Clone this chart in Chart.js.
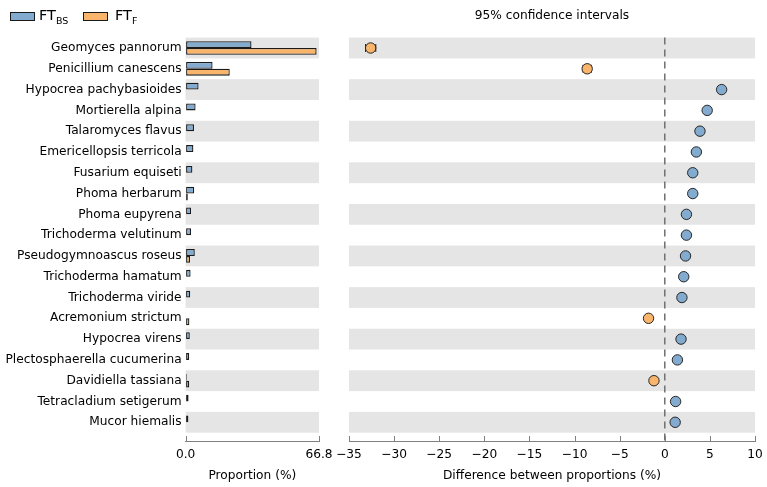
<!DOCTYPE html>
<html lang="en">
<head>
<meta charset="UTF-8">
<title>FT_BS vs FT_F proportions</title>
<style>
    body {
        margin: 0;
        background: #fff;
        font-family: "DejaVu Sans", sans-serif;
    }
    #wrap { position: relative; width: 767px; height: 487px; overflow: hidden; }
    .box { position: absolute; top: 0; height: 487px; }
    #leftBox { left: 0; width: 360px; }
    #rightBox { left: 320px; width: 467px; }
    .swatch {
        position: absolute; top: 12px; width: 25px; height: 9px;
        box-sizing: border-box; border: 1.5px solid #1a1a1a;
    }
    .legText { position: absolute; top: 7px; font-size: 14.5px; line-height: 16px; color: #000; }
    .legText sub { font-size: 9.5px; vertical-align: -4px; line-height: 0; }
    #ciTitle { position: absolute; left: 349px; width: 406px; top: 8px; text-align: center; font-size: 12.2px; color: #000; }
</style>
<script src="https://cdn.jsdelivr.net/npm/chart.js"></script>
</head>
<body>
<div id="wrap">
    <div class="box" id="leftBox"><canvas id="propChart"></canvas></div>
    <div class="box" id="rightBox"><canvas id="diffChart"></canvas></div>
    <div class="swatch" style="left:10px; background:#82abcf;"></div>
    <div class="legText" style="left:39px;">FT<sub>BS</sub></div>
    <div class="swatch" style="left:83px; background:#f9b56b;"></div>
    <div class="legText" style="left:115px;">FT<sub>F</sub></div>
    <div id="ciTitle">95% confidence intervals</div>
</div>
<script>
const taxa = ['Geomyces pannorum', 'Penicillium canescens', 'Hypocrea pachybasioides', 'Mortierella alpina',
    'Talaromyces flavus', 'Emericellopsis terricola', 'Fusarium equiseti', 'Phoma herbarum', 'Phoma eupyrena',
    'Trichoderma velutinum', 'Pseudogymnoascus roseus', 'Trichoderma hamatum', 'Trichoderma viride',
    'Acremonium strictum', 'Hypocrea virens', 'Plectosphaerella cucumerina', 'Davidiella tassiana',
    'Tetracladium setigerum', 'Mucor hiemalis'];

// proportions (%)
const propBS = [33.0, 13.5, 6.5, 5.0, 4.2, 3.9, 3.4, 4.3, 2.7, 2.7, 4.6, 2.5, 2.3, 0.1, 2.1, 1.8, 0.6, 1.5, 1.4];
const propF  = [65.6, 22.1, 0.1, 0.2, 0.2, 0.3, 0.2, 1.1, 0.2, 0.2, 2.2, 0.3, 0.3, 1.9, 0.2, 0.3, 1.8, 0.3, 0.25];

// difference between proportions and 95% CI
const diffs  = [-32.6, -8.6, 6.3, 4.7, 3.9, 3.5, 3.1, 3.1, 2.4, 2.4, 2.3, 2.1, 1.9, -1.8, 1.8, 1.4, -1.2, 1.2, 1.15];
const ciLow  = [-33.17, -9.06, 6.0, 4.4, 3.6, 3.2, 2.8, 2.8, 2.1, 2.1, 2.0, 1.8, 1.6, -2.1, 1.5, 1.1, -1.5, 0.9, 0.85];
const ciHigh = [-32.03, -8.14, 6.6, 5.0, 4.2, 3.8, 3.4, 3.4, 2.7, 2.7, 2.6, 2.4, 2.2, -1.5, 2.1, 1.7, -0.9, 1.5, 1.45];

const propTicks = [0, 66.8];
const diffTicks = [-35, -30, -25, -20, -15, -10, -5, 0, 5, 10];

const blue = '#82abcf';
const orange = '#f9b56b';
const font = { family: '"DejaVu Sans", sans-serif', size: 12.2 };

// grey band behind every other row
const rowBands = {
    id: 'rowBands',
    beforeDatasetsDraw(chart) {
        const { ctx, chartArea, scales: { y } } = chart;
        ctx.save();
        ctx.fillStyle = '#e5e5e5';
        taxa.forEach((t, i) => {
            if (i % 2) return;
            const top = y.getPixelForValue(i - 0.5);
            const bot = y.getPixelForValue(i + 0.5);
            ctx.fillRect(chartArea.left, top, chartArea.right - chartArea.left, bot - top);
        });
        ctx.restore();
    }
};

// short tick marks pointing into the plot
const innerTicks = {
    id: 'innerTicks',
    afterDraw(chart) {
        const { ctx, scales: { x } } = chart;
        ctx.save();
        ctx.strokeStyle = '#808080';
        ctx.lineWidth = 1;
        x.ticks.forEach(t => {
            const px = Math.round(x.getPixelForValue(t.value)) + 0.5;
            ctx.beginPath();
            ctx.moveTo(px, x.top);
            ctx.lineTo(px, x.top - 5);
            ctx.stroke();
        });
        ctx.restore();
    }
};

// dashed zero line and CI whiskers
const zeroAndErrors = {
    id: 'zeroAndErrors',
    beforeDatasetsDraw(chart) {
        const { ctx, chartArea, scales: { x, y } } = chart;
        ctx.save();
        const x0 = x.getPixelForValue(0);
        ctx.strokeStyle = '#707070';
        ctx.lineWidth = 1.5;
        ctx.setLineDash([7, 5]);
        ctx.beginPath();
        ctx.moveTo(x0, chartArea.top);
        ctx.lineTo(x0, chartArea.bottom);
        ctx.stroke();
        ctx.setLineDash([]);
        ctx.strokeStyle = '#222';
        ctx.lineWidth = 1;
        diffs.forEach((d, i) => {
            const yp = y.getPixelForValue(i);
            const a = x.getPixelForValue(ciLow[i]);
            const b = x.getPixelForValue(ciHigh[i]);
            ctx.beginPath();
            ctx.moveTo(a, yp); ctx.lineTo(b, yp);
            ctx.moveTo(a, yp - 4); ctx.lineTo(a, yp + 4);
            ctx.moveTo(b, yp - 4); ctx.lineTo(b, yp + 4);
            ctx.stroke();
        });
        ctx.restore();
    }
};

const rowAxis = {
    type: 'linear', reverse: true, min: -0.5, max: 18.9, offset: false
};

const minus = v => (v < 0 ? '\u2212' + Math.abs(v) : String(v));

new Chart(document.getElementById('propChart'), {
    type: 'bar',
    data: {
        datasets: [
            {
                label: 'FT_BS',
                data: propBS.map((v, i) => ({ x: v, y: i })),
                backgroundColor: blue, borderColor: '#1a1a1a', borderWidth: 1.3, borderSkipped: false
            },
            {
                label: 'FT_F',
                data: propF.map((v, i) => ({ x: v, y: i })),
                backgroundColor: orange, borderColor: '#1a1a1a', borderWidth: 1.3, borderSkipped: false
            }
        ]
    },
    options: {
        indexAxis: 'y',
        responsive: true,
        maintainAspectRatio: false,
        animation: false,
        layout: { autoPadding: false, padding: { top: 37.6, right: 41, left: 0, bottom: 0 } },
        datasets: { bar: { categoryPercentage: 0.66, barPercentage: 1.0 } },
        plugins: { legend: { display: false }, tooltip: { enabled: false } },
        scales: {
            y: Object.assign({}, rowAxis, {
                afterBuildTicks: s => { s.ticks = taxa.map((t, i) => ({ value: i })); },
                afterFit: s => { s.width = 185.6; },
                ticks: { callback: v => taxa[v], color: '#000', font: font, padding: 4, autoSkip: false },
                grid: { display: false, drawTicks: false },
                border: { display: false }
            }),
            x: {
                type: 'linear', min: 0, max: 66.8,
                afterBuildTicks: s => { s.ticks = propTicks.map(v => ({ value: v })); },
                afterFit: s => { s.height = 46; },
                ticks: { callback: v => v.toFixed(1), color: '#000', font: font, padding: 7, maxRotation: 0 },
                grid: { display: true, drawOnChartArea: false, drawTicks: false },
                border: { display: true, color: '#808080', width: 1 },
                title: { display: true, text: 'Proportion (%)', color: '#000', font: font, padding: { top: 0, bottom: 4 } }
            }
        }
    },
    plugins: [rowBands, innerTicks]
});

new Chart(document.getElementById('diffChart'), {
    type: 'scatter',
    data: {
        datasets: [{
            label: 'Difference',
            data: diffs.map((d, i) => ({ x: d, y: i })),
            pointRadius: 5.2,
            pointBorderWidth: 1,
            pointBorderColor: '#262626',
            pointBackgroundColor: diffs.map(d => (d < 0 ? orange : blue))
        }]
    },
    options: {
        responsive: true,
        maintainAspectRatio: false,
        animation: false,
        layout: { autoPadding: false, padding: { top: 37.6, right: 32, left: 29, bottom: 0 } },
        plugins: { legend: { display: false }, tooltip: { enabled: false } },
        scales: {
            y: Object.assign({}, rowAxis, { display: false }),
            x: {
                type: 'linear', min: -35, max: 10,
                afterBuildTicks: s => { s.ticks = diffTicks.map(v => ({ value: v })); },
                afterFit: s => { s.height = 46; },
                ticks: { callback: minus, color: '#000', font: font, padding: 7, maxRotation: 0 },
                grid: { display: true, drawOnChartArea: false, drawTicks: false },
                border: { display: true, color: '#808080', width: 1 },
                title: { display: true, text: 'Difference between proportions (%)', color: '#000', font: font, padding: { top: 0, bottom: 4 } }
            }
        }
    },
    plugins: [rowBands, zeroAndErrors, innerTicks]
});
</script>
</body>
</html>
